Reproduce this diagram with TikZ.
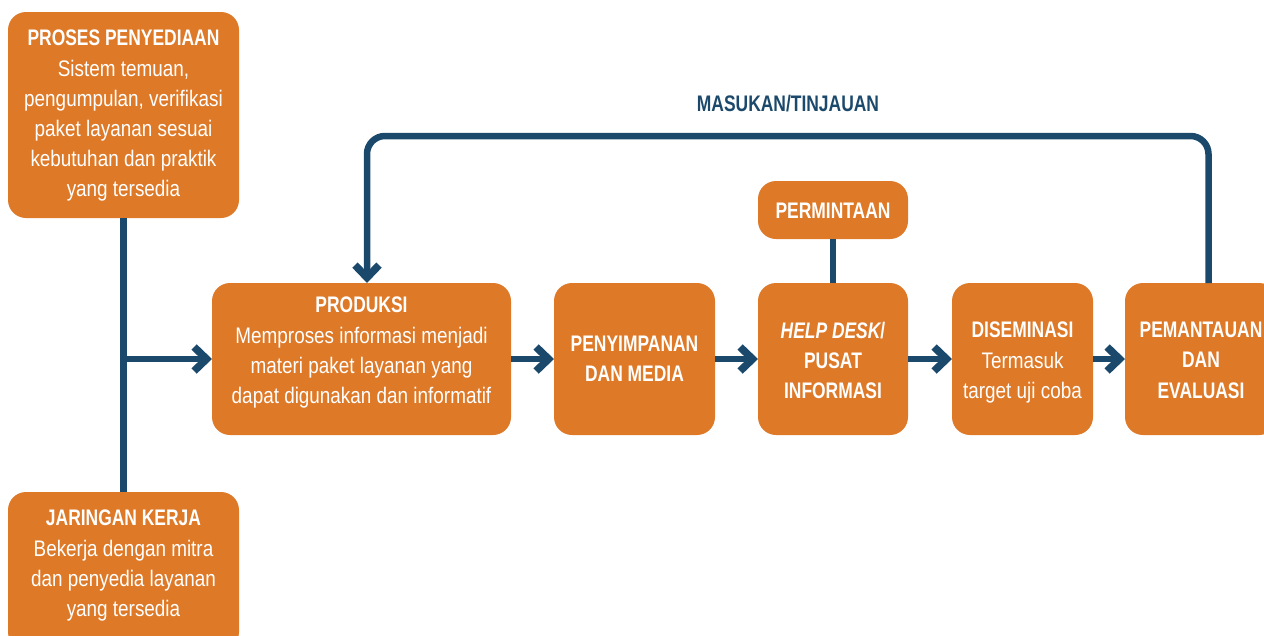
\documentclass[tikz,border=0pt]{standalone}
\usepackage{fontspec}
\setmainfont{Liberation Sans}[FakeStretch=0.84]
\newfontfamily\titlefont{Liberation Sans}[FakeStretch=0.775]
\usetikzlibrary{arrows.meta}
\definecolor{boxorange}{RGB}{222,121,40}
\definecolor{flownavy}{RGB}{27,73,107}
\newcommand\boxtitle[1]{{\titlefont\bfseries #1}}

\begin{document}
\begin{tikzpicture}[x=1pt,y=-1pt,
  box/.style={fill=boxorange, draw=none, rounded corners=18pt, inner sep=0pt, outer sep=0pt},
  txt/.style={text=white, align=center, inner sep=0pt, anchor=north,
              font=\fontsize{22.5}{30.2}\selectfont},
  flow/.style={draw=flownavy, line width=6.5pt},
  arr/.style={-{Straight Barb[length=12.5pt,width=24pt,line width=7.5pt]}},
  lbl/.style={text=flownavy, inner sep=0pt, anchor=base,
              font=\fontsize{22.5}{30.2}\selectfont\titlefont\bfseries}
]
\useasboundingbox (0,0) rectangle (1264,635);

% boxes
\node[box, minimum width=231pt, minimum height=206pt] (proses)      at (123.5,115) {};
\node[box, minimum width=231pt, minimum height=158pt] (jaringan)    at (123.5,571) {};
\node[box, minimum width=299pt, minimum height=152pt] (produksi)    at (361.5,359) {};
\node[box, minimum width=161pt, minimum height=152pt] (penyimpanan) at (634.5,359) {};
\node[box, minimum width=150pt, minimum height=152pt] (helpdesk)    at (833,359) {};
\node[box, minimum width=150pt, minimum height=58pt]  (permintaan)  at (833,210) {};
\node[box, minimum width=141pt, minimum height=152pt] (diseminasi)  at (1022.5,359) {};
\node[box, minimum width=152pt, minimum height=152pt] (pemantauan)  at (1201,359) {};

% box texts
\node[txt] (prosestxt) at (123.5,30) {\boxtitle{PROSES PENYEDIAAN}\\Sistem temuan,\\pengumpulan, verifikasi\\paket layanan sesuai\\kebutuhan dan praktik\\yang tersedia};
\node[txt] (jaringantxt) at (123.5,510) {\boxtitle{JARINGAN KERJA}\\Bekerja dengan mitra\\dan penyedia layanan\\yang tersedia};
\node[txt] (produksitxt) at (361.5,297) {\boxtitle{PRODUKSI}\\Memproses informasi menjadi\\materi paket layanan yang\\dapat digunakan dan informatif};
\node[txt] (penyimpanantxt) at (634.5,336) {\boxtitle{PENYIMPANAN}\\\boxtitle{DAN MEDIA}};
\node[txt] (helpdesktxt) at (833,322) {\boxtitle{{\itshape HELP DESK}/}\\\boxtitle{PUSAT}\\\boxtitle{INFORMASI}};
\node[txt, anchor=base] (permintaantxt) at (833,218) {\boxtitle{PERMINTAAN}};
\node[txt] (diseminasitxt) at (1022.5,322) {\boxtitle{DISEMINASI}\\Termasuk\\target uji coba};
\node[txt] (pemantauantxt) at (1201,322) {\boxtitle{PEMANTAUAN}\\\boxtitle{DAN}\\\boxtitle{EVALUASI}};

% feedback label
\node[lbl] (fblabel) at (788,111) {MASUKAN/TINJAUAN};
\coordinate (fbtop) at (788,136);

% connectors
\draw[flow] (proses.south) -- (jaringan.north);
\draw[flow, arr] (proses.south |- produksi.west) -- (produksi.west);
\draw[flow, arr] (produksi.east) -- (penyimpanan.west);
\draw[flow, arr] (penyimpanan.east) -- (helpdesk.west);
\draw[flow, arr] (helpdesk.east) -- (diseminasi.west);
\draw[flow, arr] (diseminasi.east) -- (pemantauan.west);
\draw[flow] (permintaan.south) -- (helpdesk.north);
\draw[flow, arr, rounded corners=18pt] ([xshift=7.5pt]pemantauan.north) |- (fbtop) -| ([xshift=5.5pt]produksi.north);
\end{tikzpicture}
\end{document}
